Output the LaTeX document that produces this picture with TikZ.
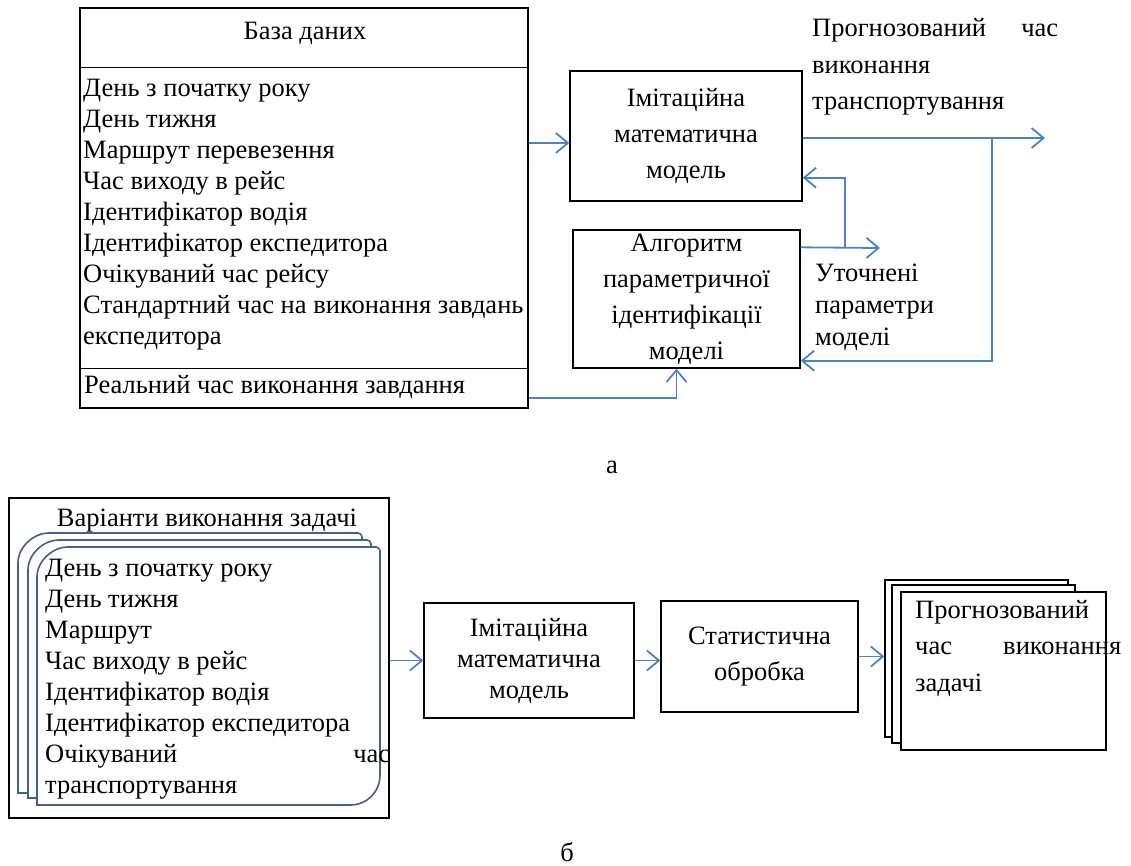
\documentclass[tikz,border=0pt]{standalone}
\usepackage{fontspec}
\setmainfont{Liberation Serif}
\usetikzlibrary{arrows.meta, positioning}
\definecolor{flowblue}{RGB}{79,129,189}
\definecolor{pageblue}{RGB}{70,96,132}

\begin{document}
\begin{tikzpicture}[x=1pt, y=-1pt,
  box/.style={draw, line width=1.4pt, align=center, inner sep=0pt, font=\fontsize{26.5}{36}\selectfont},
  list/.style={anchor=west, align=flush left, inner sep=4pt, font=\fontsize{26.5}{31}\selectfont},
  arrow/.style={-{Straight Barb[length=12pt, width=20pt]}, line width=1.8pt, color=flowblue},
  docpage/.style={draw=pageblue, line width=1.6pt, fill=white},
  caption/.style={font=\fontsize{26.5}{31}\selectfont}
]
\useasboundingbox (0,0) rectangle (1131,865);

% (a) database and model
\node[box, minimum width=448pt, minimum height=400pt] (db) at (304,208) {};
\draw[line width=1.4pt] ([yshift=-60pt]db.north west) -- ([yshift=-60pt]db.north east);
\draw[line width=1.4pt] ([yshift=40pt]db.south west) -- ([yshift=40pt]db.south east);
\node[caption] (dbtitle) at (305,33) {База даних};
\node[list] (dbfields) at (79,215) {День з початку року\\ День тижня\\ Маршрут перевезення\\
  Час виходу в рейс\\ Ідентифікатор водія\\ Ідентифікатор експедитора\\ Очікуваний час рейсу\\
  Стандартний час на виконання завдань\\ експедитора};
\node[list] (dbreal) at (80,387) {Реальний час виконання завдання};

\node[box, minimum width=232pt, minimum height=130pt] (sim) at (686,136) {Імітаційна\\ математична\\ модель};
\node[box, minimum width=227pt, minimum height=138pt] (ident) at (686.5,299) {Алгоритм\\ параметричної\\ ідентифікації\\ моделі};

\node[list, text width=246pt, font=\fontsize{26.5}{36.5}\selectfont] (forecast) at (808,67)
  {Прогнозований\hfill час\\ виконання\\ транспортування};
\node[list, font=\fontsize{26.5}{32}\selectfont] (refined) at (811,307) {Уточнені\\ параметри\\ моделі};

\coordinate (outend) at (1045,138);
\coordinate (tapout) at (992,138);
\coordinate (parend) at (880,248);
\coordinate (tappar) at (845,248);

% arrows (a)
\draw[arrow] ([yshift=-7pt]sim.west -| db.east) -- ([yshift=-7pt]sim.west);
\draw[arrow] ([yshift=-2pt]sim.east) -- (outend);
\draw[arrow] (tapout) |- ([yshift=8pt]ident.south east);
\draw[arrow] ([yshift=-18pt]ident.north east) -- (parend);
\draw[arrow] (tappar) |- ([yshift=24pt]sim.south east);
\draw[arrow] ([yshift=11pt]db.south east) -| ([xshift=-10pt]ident.south);

\node[caption] (capa) at (612,467) {а};

% (b) variants and statistics
\node[box, minimum width=380pt, minimum height=320pt] (variants) at (199,658) {};
\node[caption] (vartitle) at (207,521) {Варіанти виконання задачі};
\draw[docpage] (18,793) -- (18,563) .. controls (18,546) and (35,533) .. (48,533) -- (358,533)
  .. controls (360,533) and (362,535) .. (362,537) -- (362,763) .. controls (362,780) and (349,793) .. (332,793) -- cycle;
\draw[docpage] (28,798) -- (28,570) .. controls (28,553) and (45,540) .. (58,540) -- (367,540)
  .. controls (369,540) and (371,542) .. (371,544) -- (371,768) .. controls (371,785) and (358,798) .. (341,798) -- cycle;
\draw[docpage] (37,805) -- (37,577) .. controls (37,560) and (54,547) .. (67,547) -- (376,547)
  .. controls (378,547) and (380,549) .. (380,551) -- (380,775) .. controls (380,792) and (367,805) .. (350,805) -- cycle;
\node[list, text width=345pt] (varfields) at (41,679) {День з початку року\\ День тижня\\ Маршрут\\
  Час виходу в рейс\\ Ідентифікатор водія\\ Ідентифікатор експедитора\\ Очікуваний\hfill час\\ транспортування};

\node[box, minimum width=210pt, minimum height=115pt, font=\fontsize{26.5}{31}\selectfont] (bsim) at (529,660.5) {Імітаційна\\ математична\\ модель};
\node[box, minimum width=197pt, minimum height=111pt] (stat) at (759.5,656.5) {Статистична\\ обробка};

\node[box, minimum width=183pt, minimum height=157pt] (resback) at (976.5,658.5) {};
\node[box, fill=white, minimum width=183pt, minimum height=158pt] (resmid) at (983.5,664) {};
\node[box, fill=white, minimum width=205pt, minimum height=158pt] (resfront) at (1003.5,671) {};
\node[list, text width=206pt, font=\fontsize{26.5}{36.5}\selectfont] (restext) at (911,648)
  {Прогнозований\\ час\hfill виконання\\ задачі};

% arrows (b)
\draw[arrow] (variants.east |- bsim.west) -- (bsim.west);
\draw[arrow] (bsim.east) -- (bsim.east -| stat.west);
\draw[arrow] (stat.east) -- (stat.east -| resback.west);

\node[caption] (capb) at (567,852) {б};
\end{tikzpicture}
\end{document}
